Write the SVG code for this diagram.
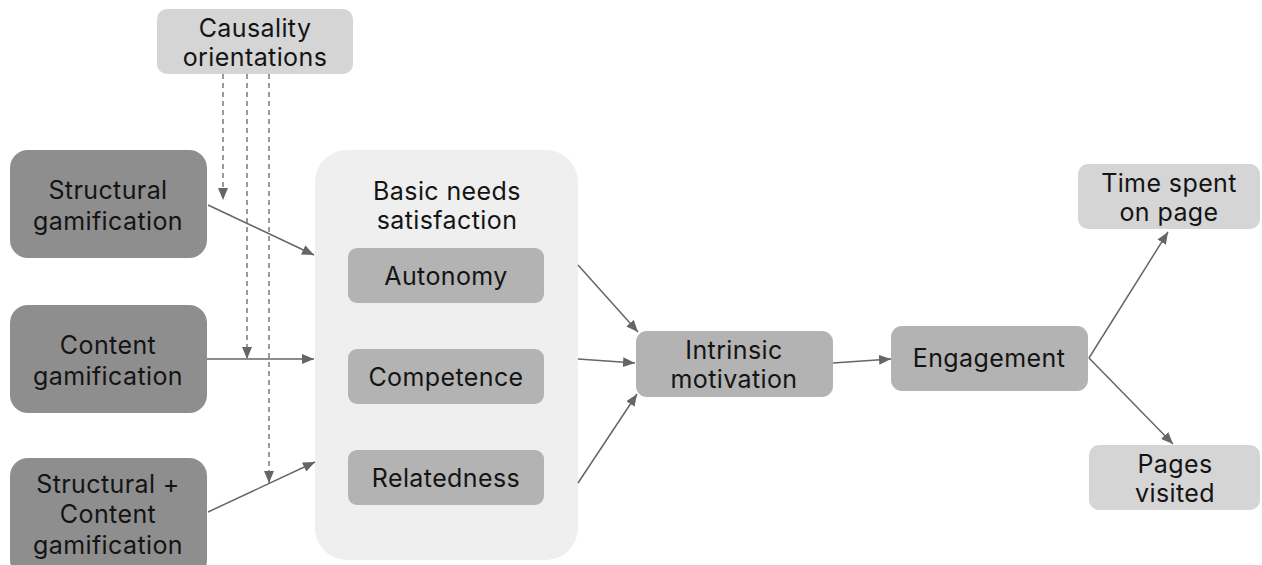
<svg xmlns="http://www.w3.org/2000/svg" width="1262" height="565" viewBox="0 0 1262 565">
<defs>
<style>
text{font-family:Inter,"Liberation Sans",sans-serif;font-size:25px;letter-spacing:0.4px;fill:#141414;text-anchor:middle;dominant-baseline:central}
.dark{fill:#8e8e8e}
.mid{fill:#b3b3b3}
.light{fill:#d5d5d5}
.cont{fill:#efefef}
.ln{stroke:#666;stroke-width:1.5;fill:none}
.dash{stroke:#666;stroke-width:1.3;fill:none;stroke-dasharray:5,4}
</style>
<marker id="ah" viewBox="0 0 12 10" refX="12" refY="5" markerWidth="12" markerHeight="10" markerUnits="userSpaceOnUse" orient="auto">
<path d="M0,0 L12,5 L0,10 z" fill="#666"/>
</marker>
</defs>
<rect width="1262" height="565" fill="#fff"/>
<g id="causality">
<rect class="light" x="157" y="9" width="196" height="65" rx="10"/>
<text x="255" y="28">Causality</text>
<text x="255" y="57">orientations</text>
</g>
<g id="basic-needs">
<rect class="cont" x="315" y="150" width="263" height="410" rx="32"/>
<text x="447" y="191">Basic needs</text>
<text x="447" y="220">satisfaction</text>
</g>
<g id="structural">
<rect class="dark" x="10" y="150" width="197" height="108" rx="18"/>
<text x="108" y="190">Structural</text>
<text x="108" y="221">gamification</text>
</g>
<g id="content">
<rect class="dark" x="10" y="305" width="197" height="108" rx="18"/>
<text x="108" y="345">Content</text>
<text x="108" y="376">gamification</text>
</g>
<g id="structural-content">
<rect class="dark" x="10" y="458" width="197" height="120" rx="18"/>
<text x="108" y="484">Structural +</text>
<text x="108" y="514">Content</text>
<text x="108" y="545">gamification</text>
</g>
<g id="autonomy">
<rect class="mid" x="348" y="248" width="196" height="55" rx="9"/>
<text x="446" y="276">Autonomy</text>
</g>
<g id="competence">
<rect class="mid" x="348" y="349" width="196" height="55" rx="9"/>
<text x="446" y="377">Competence</text>
</g>
<g id="relatedness">
<rect class="mid" x="348" y="450" width="196" height="55" rx="9"/>
<text x="446" y="478">Relatedness</text>
</g>
<g id="intrinsic">
<rect class="mid" x="636" y="331" width="197" height="66" rx="11"/>
<text x="734" y="350">Intrinsic</text>
<text x="734" y="379">motivation</text>
</g>
<g id="engagement">
<rect class="mid" x="891" y="326" width="197" height="65" rx="11"/>
<text x="989" y="358">Engagement</text>
</g>
<g id="time-spent">
<rect class="light" x="1078" y="164" width="182" height="65" rx="10"/>
<text x="1169" y="183">Time spent</text>
<text x="1169" y="212">on page</text>
</g>
<g id="pages-visited">
<rect class="light" x="1089" y="445" width="171" height="65" rx="10"/>
<text x="1175" y="464">Pages</text>
<text x="1175" y="493">visited</text>
</g>
<g id="connectors">
<line class="dash" x1="223" y1="74" x2="223" y2="200" marker-end="url(#ah)"/>
<line class="dash" x1="247" y1="74" x2="247" y2="359" marker-end="url(#ah)"/>
<line class="dash" x1="269" y1="74" x2="269" y2="483" marker-end="url(#ah)"/>
<line class="ln" x1="208" y1="205" x2="314" y2="255" marker-end="url(#ah)"/>
<line class="ln" x1="207" y1="359" x2="314" y2="359" marker-end="url(#ah)"/>
<line class="ln" x1="208" y1="512" x2="315" y2="462" marker-end="url(#ah)"/>
<line class="ln" x1="578" y1="265" x2="638" y2="332" marker-end="url(#ah)"/>
<line class="ln" x1="578" y1="359" x2="635" y2="363" marker-end="url(#ah)"/>
<line class="ln" x1="578" y1="483" x2="637" y2="394" marker-end="url(#ah)"/>
<line class="ln" x1="833" y1="363" x2="891" y2="359" marker-end="url(#ah)"/>
<line class="ln" x1="1089" y1="358" x2="1168" y2="232" marker-end="url(#ah)"/>
<line class="ln" x1="1089" y1="358" x2="1173" y2="444" marker-end="url(#ah)"/>
</g>
</svg>
